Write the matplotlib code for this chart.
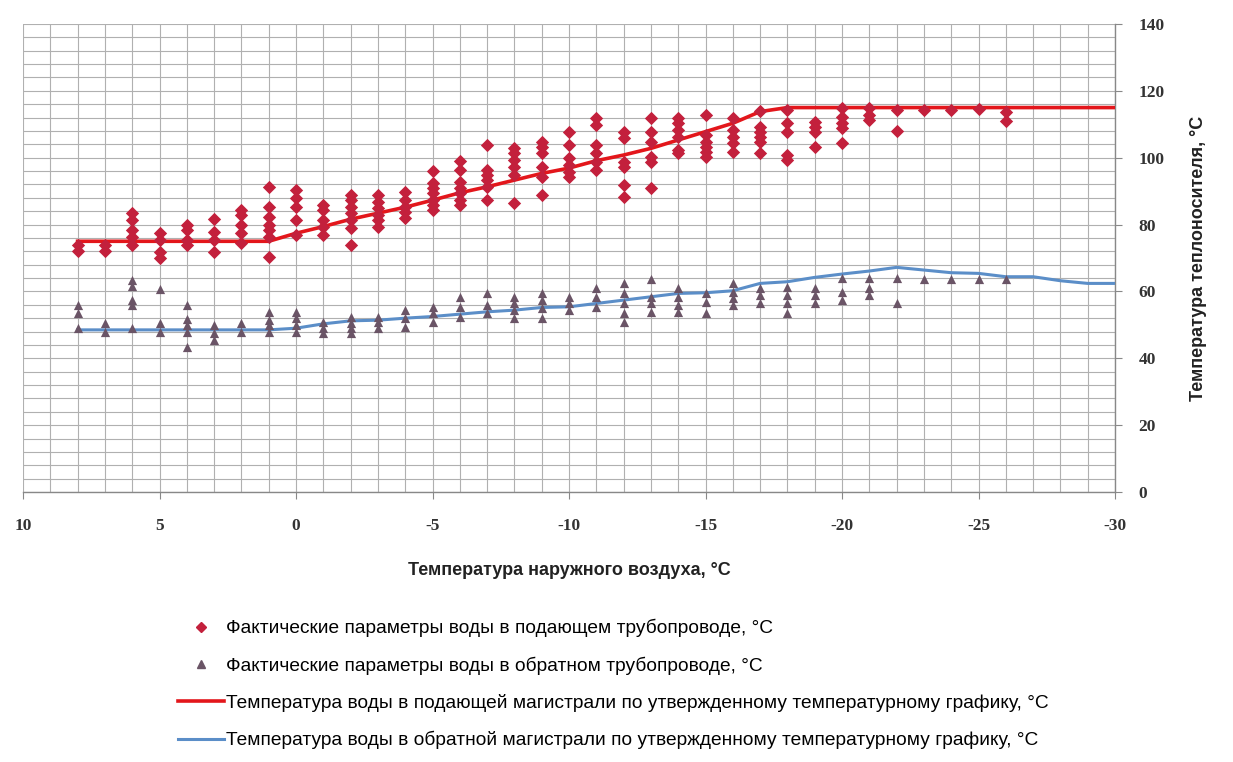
import matplotlib
matplotlib.use("Agg")
import matplotlib.pyplot as plt
from matplotlib.lines import Line2D
import numpy as np

plt.rcParams["axes.unicode_minus"] = False

# ---- data ----
fact_x = [8, 7, 6, 5, 4, 3, 2, 1, 0, -1, -2, -3, -4, -5, -6, -7, -8, -9, -10,
          -11, -12, -13, -14, -15, -16, -17, -18, -19, -20, -21, -22, -23, -24, -25, -26]
fact_supply = [
    [73.9, 72.1], [74, 72], [83.4, 81.4, 78.4, 76.3, 73.9], [77.5, 75.4, 71.8, 70.0],
    [79.9, 78.4, 75.4, 73.9], [81.7, 77.8, 75.4, 71.8], [84.4, 82.9, 79.9, 77.5, 74.5],
    [91.3, 85.3, 82.3, 79.9, 78.4, 76.4, 70.4], [90.3, 87.8, 85.3, 81.4, 76.9],
    [85.9, 84.4, 81.4, 79.4, 76.9], [88.8, 87.3, 85.3, 83.4, 81.4, 78.9, 73.9],
    [88.8, 86.8, 84.9, 82.9, 81.4, 79.2], [89.8, 87.3, 85.3, 83.8, 81.9],
    [96.1, 92.3, 90.8, 89.3, 87.3, 85.9, 84.4], [99.1, 96.3, 92.8, 90.8, 89.3, 87.3, 85.9],
    [103.8, 96.3, 94.8, 93.3, 91.3, 87.3], [102.8, 101.3, 99.3, 97.3, 94.8, 86.4],
    [104.8, 103.3, 101.3, 97.3, 94.3, 88.8], [107.8, 103.8, 99.8, 97.8, 95.8, 94.3],
    [111.8, 109.8, 103.8, 101.3, 98.8, 96.3], [107.8, 105.8, 98.8, 97.3, 91.8, 88.3],
    [111.8, 107.8, 104.8, 100.3, 98.8, 90.8], [111.8, 110.3, 108.3, 106.3, 102.3, 101.3],
    [112.8, 106.8, 104.8, 103.3, 101.8, 100.3], [111.8, 108.3, 106.3, 104.3, 101.8],
    [114.0, 109.3, 107.8, 106.3, 104.8, 101.3], [114.3, 110.3, 107.8, 100.8, 99.3],
    [110.8, 109.3, 107.8, 103.3], [114.8, 112.3, 110.3, 108.8, 104.5],
    [114.8, 112.8, 111.3], [114.3, 108.1], [114.2], [114.2], [114.7], [113.8, 111.1],
]
fact_return = [
    [55.9, 53.5, 49.0], [50.6, 47.9], [63.4, 61.6, 57.4, 55.9, 49.0], [60.7, 50.6, 48.0],
    [55.9, 51.8, 50.0, 47.9, 43.4], [50.0, 47.6, 45.5], [50.6, 48.0],
    [53.9, 51.4, 50.0, 48.0], [53.9, 52.0, 50.0, 48.0], [50.9, 49.0, 47.5],
    [52.4, 50.5, 49.0, 47.5], [52.4, 50.9, 49.0], [54.4, 52.0, 49.4],
    [55.4, 53.5, 50.9], [58.4, 55.4, 52.4], [59.4, 55.9, 53.5],
    [58.4, 56.4, 54.4, 52.0], [59.4, 57.4, 55.0, 52.0], [58.4, 56.4, 54.4],
    [60.9, 58.4, 55.4], [62.4, 59.4, 56.4, 53.5, 50.9], [63.6, 58.4, 56.4, 53.9],
    [60.9, 58.4, 55.9, 53.9], [59.4, 56.9, 53.5], [62.4, 59.9, 57.9, 55.9],
    [60.9, 58.9, 56.4], [61.4, 58.9, 56.4, 53.5], [60.9, 58.9, 56.4],
    [63.9, 59.9, 57.4], [63.9, 60.9, 58.9], [63.9, 56.4], [63.6], [63.6], [63.6], [63.6],
]

sched_x = list(range(8, -31, -1))
sched_supply = [75, 75, 75, 75, 75, 75, 75, 75, 77.4, 79.4, 81.6, 83.4, 85.2, 87.3, 89.5,
                91.3, 93.3, 95.3, 96.9, 99.1, 100.8, 102.8, 105.3, 107.8, 110.3, 113.8,
                115, 115, 115, 115, 115, 115, 115, 115, 115, 115, 115, 115, 115]
sched_return = [48.5, 48.5, 48.5, 48.5, 48.5, 48.5, 48.5, 48.5, 49.0, 50.3, 51.2, 51.4,
                52.0, 52.5, 53.2, 53.9, 54.4, 55.2, 55.4, 56.4, 57.4, 58.4, 59.4, 59.6,
                60.2, 62.4, 62.9, 64.2, 65.2, 66.1, 67.2, 66.4, 65.6, 65.4, 64.4, 64.4,
                63.2, 62.4, 62.4]

x_ticks = [10, 5, 0, -5, -10, -15, -20, -25, -30]
y_ticks = [0, 20, 40, 60, 80, 100, 120, 140]

labels = [
    "Фактические параметры воды в подающем трубопроводе, °C",
    "Фактические параметры воды в обратном трубопроводе, °C",
    "Температура воды в подающей магистрали по утвержденному температурному графику, °C",
    "Температура воды в обратной магистрали по утвержденному температурному графику, °C",
]

# ---- figure ----
fig = plt.figure(figsize=(12.33, 7.62), dpi=100)
ax = fig.add_axes([23 / 1233, 1 - 492 / 762, 1092 / 1233, 468 / 762])

ax.set_xlim(10, -30)
ax.set_ylim(0, 140)

ax.set_xticks(x_ticks)
ax.set_xticks(np.arange(10, -31, -1), minor=True)
ax.set_yticks(y_ticks)
ax.set_yticks(np.arange(0, 141, 4), minor=True)
ax.grid(True, which="both", color="#b0b0b0", linewidth=0.8)
ax.set_axisbelow(True)

ax.yaxis.tick_right()
ax.yaxis.set_label_position("right")
ax.tick_params(axis="both", which="minor", length=0)
ax.tick_params(axis="both", which="major", length=5, color="#888888", direction="out",
               labelsize=12.5)
ax.tick_params(axis="x", pad=14)
ax.tick_params(axis="y", pad=12)
for lab in ax.get_xticklabels() + ax.get_yticklabels():
    lab.set_fontfamily("Liberation Serif")
    lab.set_fontweight("bold")
    lab.set_color("#333333")

for side in ["top", "left"]:
    ax.spines[side].set_visible(False)
for side in ["bottom", "right"]:
    ax.spines[side].set_color("#888888")
    ax.spines[side].set_linewidth(1.0)

sx, sy, rx, ry = [], [], [], []
for x, vals in zip(fact_x, fact_supply):
    sx += [x] * len(vals)
    sy += vals
for x, vals in zip(fact_x, fact_return):
    rx += [x] * len(vals)
    ry += vals

ax.plot(sched_x, sched_supply, color="#e3161b", linewidth=2.6, zorder=3)
ax.plot(sched_x, sched_return, color="#5b8ec8", linewidth=2.2, zorder=3)
ax.scatter(sx, sy, marker="D", s=46, color="#c3203c", zorder=4, linewidths=0)
ax.scatter(rx, ry, marker="^", s=44, color="#6a5466", zorder=4, linewidths=0)

ax.set_xlabel("Температура наружного воздуха, °C", fontsize=13, fontweight="bold",
              family="Liberation Sans", labelpad=20, color="#222222")
ax.set_ylabel("Температура теплоносителя, °C", fontsize=13, fontweight="bold",
              family="Liberation Sans", labelpad=18, color="#222222")

handles = [
    Line2D([], [], marker="D", linestyle="none", color="#c3203c", markersize=5.5),
    Line2D([], [], marker="^", linestyle="none", color="#6a5466", markersize=5.5),
    Line2D([], [], color="#e3161b", linewidth=2.6),
    Line2D([], [], color="#5b8ec8", linewidth=2.2),
]
fig.legend(handles, labels, loc="upper left", bbox_to_anchor=(178 / 1233, 1 - 619 / 762),
           frameon=False, handlelength=2.4, handletextpad=0.12,
           labelspacing=1.0, borderpad=0, borderaxespad=0,
           prop={"family": "Liberation Sans", "size": 13.8})

fig.savefig("out.png", dpi=100)
